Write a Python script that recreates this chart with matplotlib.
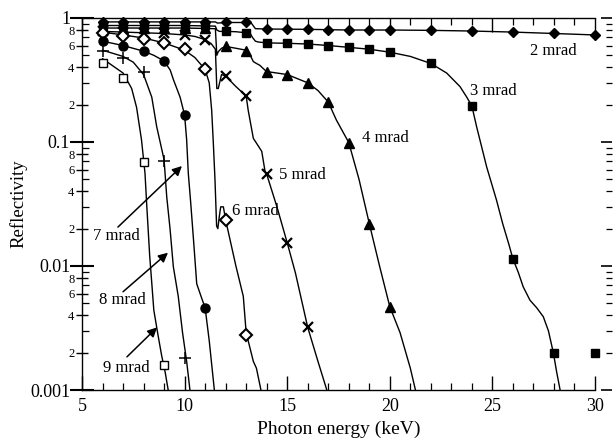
import matplotlib
matplotlib.use("Agg")
import matplotlib.pyplot as plt
from matplotlib.ticker import FixedLocator, FuncFormatter, LogLocator, MultipleLocator, NullFormatter, NullLocator

plt.rcParams['font.family'] = ['Liberation Serif', 'DejaVu Serif']

# ---- data ----
# symbols (calculated points)
m2_e = [6, 7, 8, 9, 10, 11, 12, 13, 14, 15, 16, 17, 18, 19, 20, 22, 24, 26, 28, 30]
m2_r = [0.92, 0.92, 0.92, 0.92, 0.92, 0.92, 0.92, 0.92, 0.81, 0.81, 0.81, 0.80, 0.80, 0.80, 0.80,
        0.795, 0.785, 0.77, 0.75, 0.73]
m3_e = [6, 7, 8, 9, 10, 11, 12, 13, 14, 15, 16, 17, 18, 19, 20, 22, 24, 26, 28, 30]
m3_r = [0.87, 0.87, 0.87, 0.87, 0.87, 0.87, 0.78, 0.76, 0.63, 0.625, 0.617, 0.60, 0.58, 0.56, 0.53,
        0.43, 0.195, 0.0114, 0.0020, 0.0020]
m4_e = [6, 7, 8, 9, 10, 11, 12, 13, 14, 15, 16, 17, 18, 19, 20]
m4_r = [0.83, 0.83, 0.83, 0.83, 0.83, 0.83, 0.59, 0.54, 0.37, 0.35, 0.30, 0.21, 0.099, 0.022, 0.0047]
m5_e = [6, 7, 8, 9, 10, 11, 12, 13, 14, 15, 16]
m5_r = [0.78, 0.77, 0.76, 0.75, 0.73, 0.67, 0.34, 0.235, 0.055, 0.0154, 0.0032]
m6_e = [6, 7, 8, 9, 10, 11, 12, 13]
m6_r = [0.76, 0.72, 0.68, 0.63, 0.56, 0.385, 0.0235, 0.0028]
m7_e = [6, 7, 8, 9, 10, 11]
m7_r = [0.65, 0.60, 0.54, 0.45, 0.165, 0.0046]
m8_e = [6, 7, 8, 9, 10]
m8_r = [0.545, 0.48, 0.37, 0.070, 0.0018]
m9_e = [6, 7, 8, 9]
m9_r = [0.43, 0.33, 0.069, 0.0016]

# solid curves
c2_e = [6, 8, 10, 11.5, 11.6, 12, 13, 13.25, 13.45, 14, 16, 18, 20, 22, 24, 26, 28, 30]
c2_r = [0.93, 0.93, 0.93, 0.93, 0.91, 0.92, 0.92, 0.91, 0.82, 0.815, 0.81, 0.80, 0.80, 0.795,
        0.785, 0.77, 0.75, 0.73]
c3_e = [6, 8, 10, 11.5, 11.57, 11.7, 12, 12.5, 13, 13.2, 13.3, 13.45, 13.6, 14, 15, 16, 17, 18,
        19, 20, 21, 22, 22.77, 23.42, 23.75, 24, 24.23, 24.72, 25.2, 25.5, 25.8, 26, 26.26, 26.5,
        26.83, 27.16, 27.48, 27.73, 27.97, 28.13, 28.3]
c3_r = [0.87, 0.87, 0.87, 0.86, 0.80, 0.78, 0.78, 0.775, 0.76, 0.75, 0.70, 0.65, 0.64, 0.63,
        0.625, 0.617, 0.60, 0.58, 0.56, 0.53, 0.49, 0.43, 0.36, 0.28, 0.23, 0.195, 0.133, 0.063,
        0.034, 0.022, 0.015, 0.0114, 0.0089, 0.0068, 0.0053, 0.0046, 0.0039, 0.0030, 0.0020,
        0.0014, 0.0010]
c4_e = [6, 8, 10, 11.5, 11.57, 11.64, 11.8, 12, 12.5, 13, 13.06, 13.2, 13.35, 13.5, 13.67, 13.84,
        14, 15, 16, 16.5, 17, 17.4, 18, 18.5, 19, 19.5, 20, 20.5, 21, 21.25]
c4_r = [0.83, 0.83, 0.83, 0.82, 0.50, 0.535, 0.57, 0.59, 0.57, 0.55, 0.55, 0.50, 0.445, 0.43,
        0.415, 0.39, 0.37, 0.35, 0.30, 0.26, 0.21, 0.15, 0.099, 0.05, 0.022, 0.010, 0.0047,
        0.0029, 0.0015, 0.0010]
c5_e = [6, 7, 8, 9, 10, 10.5, 11, 11.3, 11.5, 11.57, 11.64, 11.8, 12, 12.5, 13, 13.1, 13.35,
        13.5, 13.76, 13.92, 14, 14.5, 15, 15.4, 16, 16.5, 16.93]
c5_r = [0.78, 0.77, 0.76, 0.75, 0.73, 0.71, 0.67, 0.62, 0.56, 0.27, 0.27, 0.35, 0.34, 0.28,
        0.235, 0.18, 0.107, 0.098, 0.084, 0.058, 0.055, 0.030, 0.0154, 0.0088, 0.0032, 0.0017,
        0.0010]
c6_e = [6, 7, 8, 9, 10, 10.5, 11, 11.2, 11.32, 11.4, 11.48, 11.56, 11.62, 11.69, 11.76, 11.89,
        12, 12.5, 12.86, 13, 13.35, 13.5, 13.72]
c6_r = [0.77, 0.73, 0.69, 0.63, 0.55, 0.48, 0.385, 0.30, 0.18, 0.098, 0.05, 0.021, 0.020, 0.025,
        0.030, 0.030, 0.0235, 0.010, 0.0057, 0.0029, 0.0017, 0.0015, 0.0010]
c7_e = [6, 7, 8, 8.5, 9, 9.3, 9.45, 9.78, 10, 10.1, 10.18, 10.3, 10.45, 10.59, 10.8, 11, 11.2,
        11.45]
c7_r = [0.65, 0.60, 0.54, 0.50, 0.45, 0.38, 0.32, 0.23, 0.165, 0.104, 0.056, 0.032, 0.015,
        0.0072, 0.0057, 0.0046, 0.0025, 0.0010]
c8_e = [6, 7, 7.5, 8, 8.4, 8.64, 9, 9.13, 9.29, 9.45, 9.69, 9.9, 10.1, 10.26]
c8_r = [0.55, 0.49, 0.44, 0.35, 0.23, 0.133, 0.072, 0.036, 0.020, 0.0099, 0.0057, 0.0029,
        0.0017, 0.0010]
c9_e = [6, 7, 7.42, 7.66, 7.9, 8.07, 8.15, 8.3, 8.4, 8.5, 8.7, 8.88, 9.05, 9.2]
c9_r = [0.47, 0.36, 0.27, 0.19, 0.104, 0.056, 0.032, 0.012, 0.0073, 0.0044, 0.0028, 0.0019,
        0.0014, 0.0010]

fig = plt.figure(figsize=(6.13, 4.44), dpi=100)
ax = fig.add_axes([82 / 613, 1 - 390 / 444, 513 / 613, 372 / 444])

curves = [(c2_e, c2_r), (c3_e, c3_r), (c4_e, c4_r), (c5_e, c5_r),
          (c6_e, c6_r), (c7_e, c7_r), (c8_e, c8_r), (c9_e, c9_r)]
for ce, cr in curves:
    ax.plot(ce, cr, color='black', lw=1.0, zorder=2)

# symbols
ax.plot(m2_e, m2_r, 'D', ms=5.5, color='black', zorder=3, clip_on=False)
ax.plot(m3_e, m3_r, 's', ms=6, color='black', zorder=3, clip_on=False)
ax.plot(m4_e, m4_r, '^', ms=7, color='black', zorder=3)
ax.plot(m5_e, m5_r, 'x', ms=7, mew=1.6, color='black', zorder=3)
ax.plot(m6_e, m6_r, 'D', ms=6, mew=1.5, mfc='white', mec='black', zorder=3)
ax.plot(m7_e, m7_r, 'o', ms=6.5, color='black', zorder=3)
ax.plot(m8_e, m8_r, '+', ms=8, mew=1.1, color='black', zorder=3)
ax.plot(m9_e, m9_r, 's', ms=5.5, mew=1.0, mfc='white', mec='black', zorder=3)

# labels for the curves
fs = 12
ax.text(26.83, 0.54, '2 mrad', fontsize=fs, va='center')
ax.text(23.9, 0.26, '3 mrad', fontsize=fs, va='center')
ax.text(18.65, 0.108, '4 mrad', fontsize=fs, va='center')
ax.text(14.6, 0.054, '5 mrad', fontsize=fs, va='center')
ax.text(12.3, 0.028, '6 mrad', fontsize=fs, va='center')
ax.text(5.55, 0.0175, '7 mrad', fontsize=fs, va='center')
ax.text(5.85, 0.0053, '8 mrad', fontsize=fs, va='center')
ax.text(6.0, 0.0015, '9 mrad', fontsize=fs, va='center')

arrow = dict(arrowstyle='-|>', color='black', lw=1.1, mutation_scale=14, shrinkA=0, shrinkB=0)
ax.annotate('', xy=(9.87, 0.064), xytext=(6.75, 0.0206), arrowprops=arrow)
ax.annotate('', xy=(9.19, 0.0128), xytext=(7.0, 0.0062), arrowprops=arrow)
ax.annotate('', xy=(8.66, 0.0032), xytext=(7.19, 0.00185), arrowprops=arrow)

# axes
ax.set_yscale('log')
ax.set_xlim(5, 30)
ax.set_ylim(0.001, 1)
ax.spines['right'].set_visible(False)
for s in ['left', 'top', 'bottom']:
    ax.spines[s].set_linewidth(1.0)

ax.xaxis.set_major_locator(MultipleLocator(5))
ax.xaxis.set_minor_locator(MultipleLocator(1))
ax.tick_params(axis='x', which='both', direction='in', top=True, labelsize=13, pad=6)
ax.tick_params(axis='x', which='major', length=10, width=1.0)
ax.tick_params(axis='x', which='minor', length=5, width=0.9)

ax.yaxis.set_major_locator(FixedLocator([0.001, 0.01, 0.1, 1]))
ax.yaxis.set_major_formatter(FuncFormatter(lambda v, p: {0.001: '0.001', 0.01: '0.01', 0.1: '0.1', 1: '1'}.get(round(v, 3), '')))
ax.yaxis.set_minor_locator(LogLocator(base=10, subs=(2, 4, 6, 8)))
ax.yaxis.set_minor_formatter(FuncFormatter(lambda v, p: '%d' % round(v / 10 ** int(f'{v:e}'.split('e')[1]))))
ax.tick_params(axis='y', which='major', direction='inout', length=17, width=1.5, labelsize=13, right=False, pad=0)
ax.tick_params(axis='y', which='minor', direction='inout', length=9, width=1.0, labelsize=9, right=False, pad=1)

# shorter ticks at 3, 5, 7, 9
sec_l = ax.secondary_yaxis('left')
sec_l.yaxis.set_major_locator(LogLocator(base=10, subs=(3, 5, 7, 9)))
sec_l.yaxis.set_major_formatter(NullFormatter())
sec_l.yaxis.set_minor_locator(NullLocator())
sec_l.tick_params(axis='y', which='major', direction='in', length=5, width=0.9)
sec_l.spines['left'].set_visible(False)

# detached right-hand ticks
sec_r = ax.secondary_yaxis(1 + 17 / 513)
sec_r.yaxis.set_major_locator(FixedLocator([0.001, 0.01, 0.1, 1]))
sec_r.yaxis.set_minor_locator(LogLocator(base=10, subs=(2, 3, 4, 5, 6, 7, 8, 9)))
sec_r.yaxis.set_major_formatter(NullFormatter())
sec_r.yaxis.set_minor_formatter(NullFormatter())
sec_r.tick_params(axis='y', which='major', direction='in', length=8, width=1.2)
sec_r.tick_params(axis='y', which='minor', direction='in', length=4, width=0.9)
sec_r.spines['right'].set_visible(False)

ax.set_xlabel('Photon energy (keV)', fontsize=14, labelpad=4)
ax.set_ylabel('Reflectivity', fontsize=13.5, labelpad=2)

fig.savefig('out.png', dpi=100)
